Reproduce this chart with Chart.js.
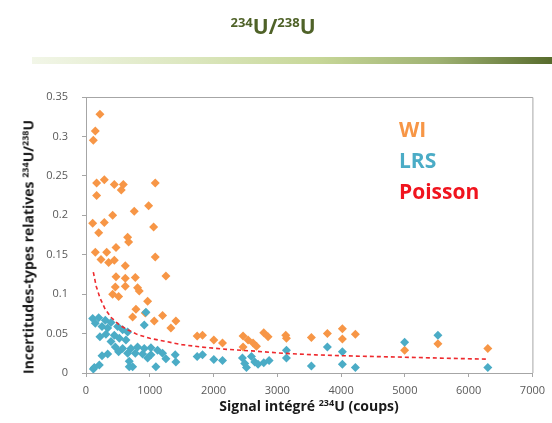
<!DOCTYPE html>
<html>
<head>
<meta charset="utf-8">
<script src="https://cdn.jsdelivr.net/npm/chart.js@4"></script>
<style>
  body { margin: 0; background: #fff; }
  #wrap { position: relative; width: 552px; height: 423px; font-family: "Open Sans", sans-serif; }
  #chart { position: absolute; left: 0; top: 0; }
  .title { position: absolute; left: 0; width: 546px; top: 12px; text-align: center; color: #4F6228; font-weight: bold; font-size: 21px; }
  .title sup { font-size: 13px; vertical-align: 7px; line-height: 0; }
  .bar { position: absolute; left: 32px; top: 57px; width: 520px; height: 7px;
         background: linear-gradient(to right, #f2f6e8 0%, #dce7bf 30%, #c7d798 55%, #9fb273 78%, #576b2c 100%); }
  .ytitle { position: absolute; left: 28px; top: 247px; transform: translate(-50%, -50%) rotate(-90deg);
            white-space: nowrap; font-weight: bold; font-size: 14px; color: #1a1a1a; }
  .xtitle { position: absolute; left: 309px; top: 405px; transform: translate(-50%, -50%);
            white-space: nowrap; font-weight: bold; font-size: 14px; color: #1a1a1a; }
  .ytitle sup, .xtitle sup { font-size: 9px; vertical-align: 5px; line-height: 0; }
  .legend { position: absolute; left: 399px; top: 114px; font-weight: bold; font-size: 21px; line-height: 31px; }
</style>
</head>
<body>
<div id="wrap">
  <canvas id="chart" width="552" height="423"></canvas>
  <div class="title"><sup>234</sup>U/<sup>238</sup>U</div>
  <div class="bar"></div>
  <div class="ytitle">Incertitudes-types relatives <sup>234</sup>U/<sup>238</sup>U</div>
  <div class="xtitle">Signal intégré <sup>234</sup>U (coups)</div>
  <div class="legend">
    <div style="color:#F79646">WI</div>
    <div style="color:#4BACC6">LRS</div>
    <div style="color:#F0141E">Poisson</div>
  </div>
</div>
<script>
// WI (orange)
const wiX = [219, 146, 115, 167, 287, 444, 585, 553, 1086, 167, 982, 757, 418, 105, 287, 199, 1060, 653, 668, 470,
  146, 324, 235, 355, 444, 1086, 616, 470, 616, 773, 1253, 460, 616, 809, 835, 418, 512, 966, 783, 929,
  731, 1070, 1201, 1409, 1331, 1743, 1827, 2004, 2140, 2463, 2541, 2620, 2673, 2463, 2787, 2855, 3132, 3143, 3534, 3785,
  4020, 4020, 4224, 4996, 5518, 6301];
const wiY = [0.328, 0.307, 0.295, 0.241, 0.245, 0.239, 0.239, 0.232, 0.241, 0.225, 0.212, 0.205, 0.200, 0.190, 0.191, 0.178, 0.185, 0.172, 0.166, 0.159,
  0.153, 0.153, 0.144, 0.140, 0.143, 0.147, 0.136, 0.122, 0.120, 0.121, 0.123, 0.109, 0.110, 0.108, 0.104, 0.100, 0.097, 0.091, 0.081, 0.076,
  0.071, 0.066, 0.073, 0.066, 0.057, 0.047, 0.048, 0.042, 0.038, 0.047, 0.042, 0.038, 0.034, 0.033, 0.051, 0.046, 0.048, 0.044, 0.045, 0.050,
  0.056, 0.043, 0.049, 0.029, 0.037, 0.031];

// LRS (blue)
const lrsX = [940, 913, 105, 199, 303, 392, 146, 251, 340, 496, 574, 653, 219, 313, 444, 522, 626, 392, 460, 574,
  705, 809, 913, 1018, 1122, 512, 653, 773, 888, 1018, 1201, 251, 340, 678, 966, 1253, 1399, 209, 130, 678,
  1096, 1409, 1743, 1827, 2004, 2140, 2453, 2489, 2516, 2594, 2646, 2698, 2787, 2871, 3143, 3143, 3534, 3785, 4020, 4020,
  4224, 4996, 5518, 6301, 731, 115];
const lrsY = [0.077, 0.061, 0.069, 0.070, 0.067, 0.064, 0.063, 0.059, 0.057, 0.059, 0.055, 0.052, 0.046, 0.049, 0.048, 0.044, 0.042, 0.040, 0.033, 0.031,
  0.031, 0.033, 0.031, 0.032, 0.029, 0.027, 0.025, 0.025, 0.024, 0.023, 0.025, 0.022, 0.024, 0.015, 0.019, 0.018, 0.023, 0.010, 0.007, 0.008,
  0.008, 0.014, 0.021, 0.023, 0.017, 0.016, 0.019, 0.012, 0.007, 0.021, 0.014, 0.011, 0.013, 0.016, 0.029, 0.019, 0.009, 0.033, 0.027, 0.011,
  0.007, 0.039, 0.048, 0.007, 0.008, 0.005];

// Poisson (red dashed)
const poissonX = [115, 160, 220, 300, 400, 520, 650, 800, 1000, 1250, 1500, 1800, 2200, 2600, 3100, 3600, 4200, 5000, 5500, 6300];
const poissonY = [0.128, 0.110, 0.095, 0.081, 0.070, 0.061, 0.055, 0.049, 0.044, 0.040, 0.036, 0.033, 0.030, 0.028, 0.025, 0.023, 0.0215, 0.020, 0.019, 0.0175];

function pts(xs, ys) {
  return xs.map((x, i) => ({ x: x, y: ys[i] }));
}

const frame = {
  id: 'frame',
  afterDraw(chart) {
    const a = chart.chartArea, c = chart.ctx;
    c.save();
    c.strokeStyle = '#A6A6A6';
    c.lineWidth = 1;
    c.beginPath();
    c.moveTo(a.left, a.top + 0.5);
    c.lineTo(a.right + 0.5, a.top + 0.5);
    c.lineTo(a.right + 0.5, a.bottom);
    c.stroke();
    c.restore();
  }
};

const tickFont = { family: 'Open Sans', size: 11 };

new Chart(document.getElementById('chart'), {
  type: 'scatter',
  data: {
    datasets: [
      { label: 'Poisson', data: pts(poissonX, poissonY), showLine: true, pointRadius: 0,
        borderColor: '#EE2A2E', borderWidth: 1.6, borderDash: [4, 3], fill: false, order: 1 },
      { label: 'LRS', data: pts(lrsX, lrsY), pointStyle: 'rectRot', pointRadius: 4.5,
        backgroundColor: '#4BACC6', borderColor: '#4BACC6', borderWidth: 0, order: 2 },
      { label: 'WI', data: pts(wiX, wiY), pointStyle: 'rectRot', pointRadius: 4.5,
        backgroundColor: '#F79646', borderColor: '#F79646', borderWidth: 0, order: 3 }
    ]
  },
  options: {
    responsive: false,
    animation: false,
    layout: { padding: { top: 97, right: 19, left: 0, bottom: 0 } },
    plugins: { legend: { display: false }, tooltip: { enabled: false } },
    scales: {
      x: {
        type: 'linear', min: 0, max: 7000,
        ticks: { stepSize: 1000, color: '#595959', font: tickFont, padding: 7,
                 callback: v => String(v) },
        grid: { drawOnChartArea: false, tickLength: 4, color: '#A6A6A6' },
        border: { color: '#A6A6A6' },
        afterFit: s => { s.height = 50; }
      },
      y: {
        min: 0, max: 0.35,
        ticks: { stepSize: 0.05, color: '#595959', font: tickFont, padding: 14,
                 callback: v => parseFloat(v.toFixed(2)).toString() },
        grid: { drawOnChartArea: false, tickLength: 4, color: '#A6A6A6' },
        border: { color: '#A6A6A6' },
        afterFit: s => { s.width = 86; }
      }
    }
  },
  plugins: [frame]
});
</script>
</body>
</html>
